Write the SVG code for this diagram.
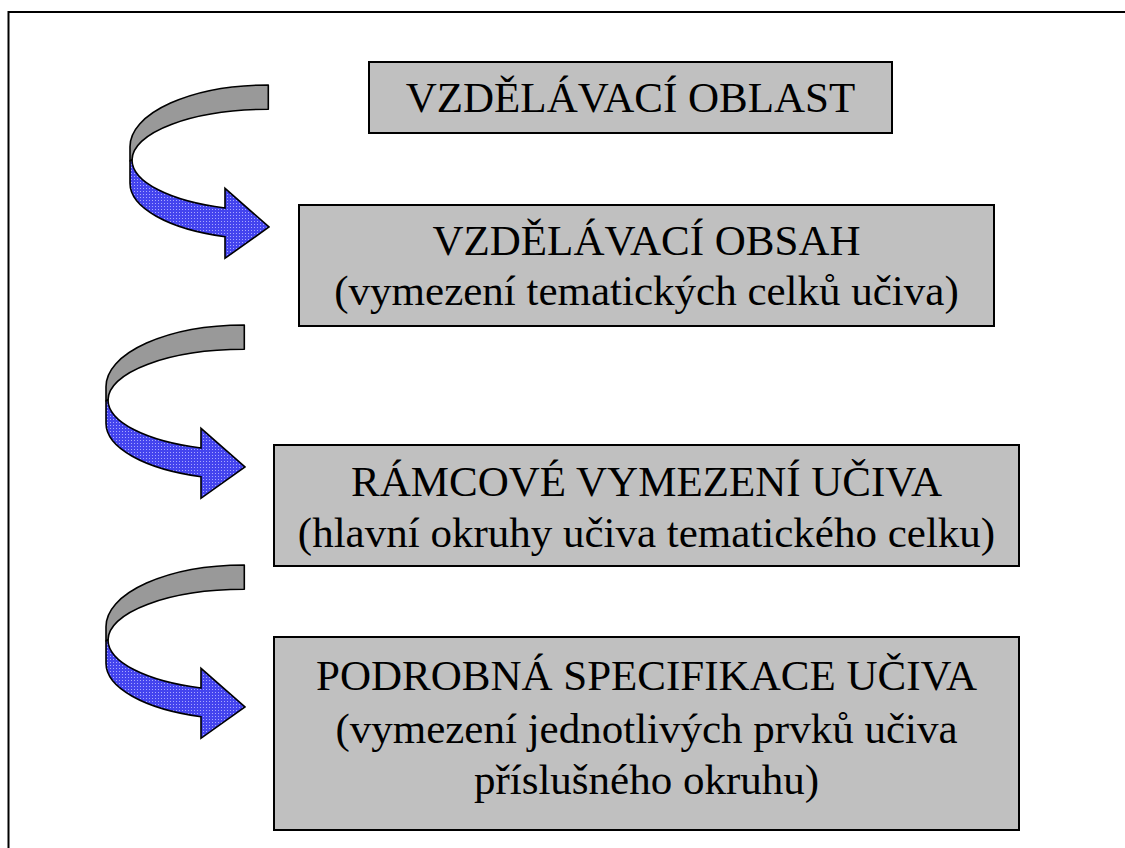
<svg xmlns="http://www.w3.org/2000/svg" xmlns:xlink="http://www.w3.org/1999/xlink" width="1125" height="848" viewBox="0 0 1125 848">
<style>
.box{fill:#c0c0c0;stroke:#000;stroke-width:2}
.lbl{font-family:'Liberation Serif','DejaVu Serif','Times New Roman',serif;font-size:43px;fill:#000;text-anchor:middle}
.back{fill:#999999;stroke:#000;stroke-width:1.6;stroke-linejoin:round}
.front{fill:url(#dots);stroke:#000;stroke-width:1.6;stroke-linejoin:miter}
</style>
<defs>
<pattern id="dots" width="3" height="3" patternUnits="userSpaceOnUse">
<rect width="3" height="3" fill="#4444ee"/>
<rect x="1" y="1" width="1" height="1" fill="#a8a8ff"/>
</pattern>
<g id="uturn">
<path class="back" d="M138.3,0 A138.3,61.7 0 0 0 0,61.7 L0,76 L2,75 A136.3,50.7 0 0 1 138.3,24.3 Z"/>
<path class="front" d="M2,75 L0,76 L0,98.3 A138.3,56.2 0 0 0 95,151.7 L95,173.3 L139,142 L95,103.3 L95,123 A136.3,50.7 0 0 1 2,75 Z"/>
</g>
</defs>
<rect width="1125" height="848" fill="#fff"/>
<rect x="8.5" y="12" width="1130" height="850" fill="none" stroke="#000" stroke-width="2"/>
<g id="connectors">
<use xlink:href="#uturn" href="#uturn" x="130" y="85"/>
<use xlink:href="#uturn" href="#uturn" x="106" y="325"/>
<use xlink:href="#uturn" href="#uturn" x="106" y="565"/>
</g>
<g id="node-oblast">
<rect class="box" x="369" y="62" width="523" height="71"/>
<text class="lbl" x="630.5" y="112" font-family="Liberation Serif, serif">VZDĚLÁVACÍ OBLAST</text>
</g>
<g id="node-obsah">
<rect class="box" x="299" y="205" width="695" height="121"/>
<text class="lbl" x="646.5" y="255" font-family="Liberation Serif, serif">VZDĚLÁVACÍ OBSAH</text>
<text class="lbl" x="646.5" y="305" font-family="Liberation Serif, serif">(vymezení tematických celků učiva)</text>
</g>
<g id="node-ramcove">
<rect class="box" x="274" y="445" width="745" height="121"/>
<text class="lbl" x="646.5" y="496" font-family="Liberation Serif, serif">RÁMCOVÉ VYMEZENÍ UČIVA</text>
<text class="lbl" x="646.5" y="547" font-family="Liberation Serif, serif">(hlavní okruhy učiva tematického celku)</text>
</g>
<g id="node-podrobna">
<rect class="box" x="274" y="637" width="745" height="193"/>
<text class="lbl" x="646.5" y="690" font-family="Liberation Serif, serif">PODROBNÁ SPECIFIKACE UČIVA</text>
<text class="lbl" x="646.5" y="743" font-family="Liberation Serif, serif">(vymezení jednotlivých prvků učiva</text>
<text class="lbl" x="646.5" y="794" font-family="Liberation Serif, serif">příslušného okruhu)</text>
</g>
</svg>
